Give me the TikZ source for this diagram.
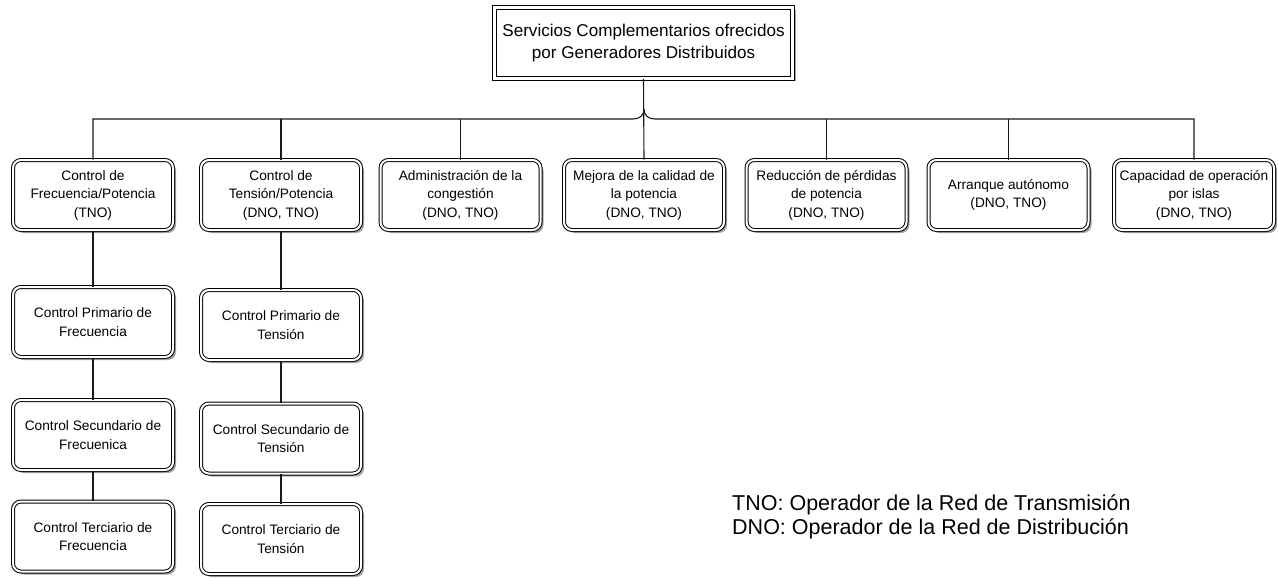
\documentclass[tikz,border=0pt]{standalone}
\usepackage{fontspec}
\setmainfont{Liberation Sans}
\usetikzlibrary{shadows}
\begin{document}
\begin{tikzpicture}[x=1pt,y=-1pt,
  every node/.style={inner sep=0pt},
  svcbox/.style={draw=black, line width=1pt, double=white, double distance=2pt,
    rounded corners=8pt, fill=white, minimum width=160pt, minimum height=70pt,
    align=center, font=\fontsize{13.7}{18.5}\selectfont,
    drop shadow={shadow xshift=3pt, shadow yshift=-3pt, fill=black!35, opacity=1}},
  rootbox/.style={draw=black, line width=1pt, double=white, double distance=2.4pt,
    fill=white, minimum width=298pt, minimum height=71pt,
    align=center, font=\fontsize{17.1}{22}\selectfont,
    drop shadow={shadow xshift=3pt, shadow yshift=-3pt, fill=black!35, opacity=1}},
  link/.style={draw=black!90, line width=1.1pt},
  legend/.style={anchor=base west, font=\fontsize{21.5}{24}\selectfont}]
\useasboundingbox (0,0) rectangle (1278,578);

\node[rootbox] (top) at (643.5,43) {Servicios Complementarios ofrecidos\\por Generadores Distribuidos};

\node[svcbox] (b1) at (93,195) {Control de\\Frecuencia/Potencia\\(TNO)};
\node[svcbox] (b2) at (281,195) {Control de\\Tensión/Potencia\\(DNO, TNO)};
\node[svcbox] (b3) at (460.5,195) {Administración de la\\congestión\\(DNO, TNO)};
\node[svcbox] (b4) at (644,195) {Mejora de la calidad de\\la potencia\\(DNO, TNO)};
\node[svcbox] (b5) at (826.5,195) {Reducción de pérdidas\\de potencia\\(DNO, TNO)};
\node[svcbox] (b6) at (1008.5,195) {Arranque autónomo\\(DNO, TNO)};
\node[svcbox] (b7) at (1194,195) {Capacidad de operación\\por islas\\(DNO, TNO)};

\node[svcbox] (p1) at (93,322) {Control Primario de\\Frecuencia};
\node[svcbox] (s1) at (93,435) {Control Secundario de\\Frecuenica};
\node[svcbox] (t1) at (93,536.5) {Control Terciario de\\Frecuencia};

\node[svcbox] (p2) at (281,325) {Control Primario de\\Tensión};
\node[svcbox] (s2) at (281,438.5) {Control Secundario de\\Tensión};
\node[svcbox] (t2) at (281,539) {Control Terciario de\\Tensión};

\coordinate (bl) at (633,119);
\coordinate (br) at (655,119);
\coordinate (bc) at (644,109);

\path[link] (top.south) -- (b4.north);
\path[link] (b1.north) |- (bl) .. controls (640,119) and (644,115) .. (bc);
\path[link] (b7.north) |- (br) .. controls (648,119) and (644,115) .. (bc);
\path[link] (b2.north) -- (b2.north |- bl);
\path[link] (b3.north) -- (b3.north |- bl);
\path[link] (b5.north) -- (b5.north |- bl);
\path[link] (b6.north) -- (b6.north |- bl);

\path[link] (b1.south) -- (p1.north);
\path[link] (p1.south) -- (s1.north);
\path[link] (s1.south) -- (t1.north);
\path[link] (b2.south) -- (p2.north);
\path[link] (p2.south) -- (s2.north);
\path[link] (s2.south) -- (t2.north);

\node[legend] (leg1) at (732,510) {TNO: Operador de la Red de Transmisión};
\node[legend] (leg2) at (732,534) {DNO: Operador de la Red de Distribución};
\end{tikzpicture}
\end{document}
